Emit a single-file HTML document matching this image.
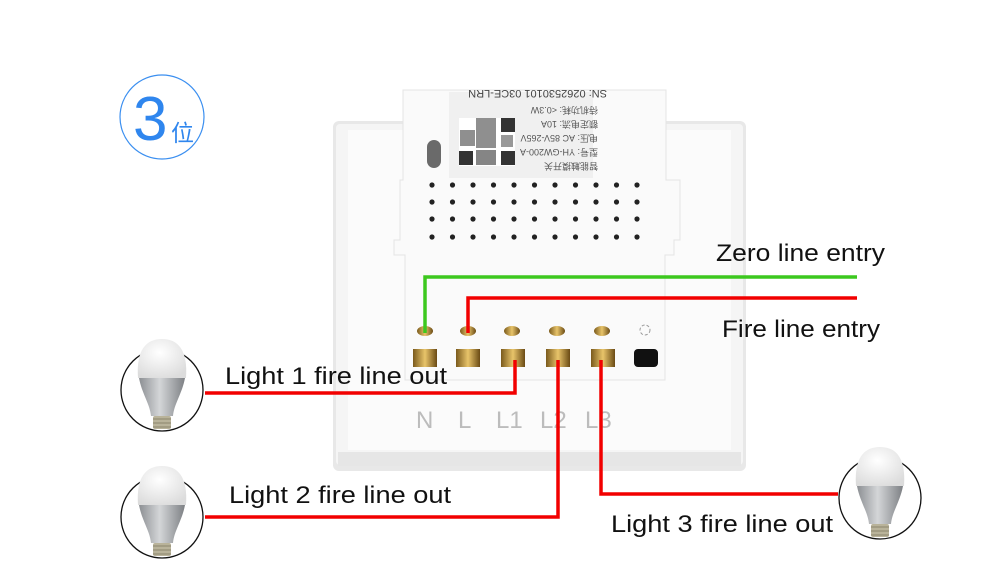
<!DOCTYPE html>
<html><head><meta charset="utf-8"><style>
body{margin:0;background:#fff;}
svg{display:block}
text{font-family:"Liberation Sans","Noto Sans CJK SC",sans-serif;}
</style></head><body>
<svg width="1000" height="584" viewBox="0 0 1000 584" xmlns="http://www.w3.org/2000/svg">
<defs>
<linearGradient id="sil" x1="0" x2="1"><stop offset="0" stop-color="#8c8f93"/><stop offset="0.45" stop-color="#d4d6d8"/><stop offset="1" stop-color="#7d8084"/></linearGradient>
<radialGradient id="dome" cx="0.45" cy="0.35" r="0.7"><stop offset="0" stop-color="#ffffff"/><stop offset="1" stop-color="#dcdcdc"/></radialGradient>
<linearGradient id="brass" x1="0" x2="1"><stop offset="0" stop-color="#7a5a1c"/><stop offset="0.5" stop-color="#e8c46a"/><stop offset="1" stop-color="#6a4a14"/></linearGradient>
<g id="bulb">
<circle cx="0" cy="0" r="41" fill="#fff" stroke="#111" stroke-width="1.3"/>
<path d="M-24,-12 C-26,-40 -16,-51 0,-51 C16,-51 26,-40 24,-12 Z" fill="url(#dome)"/>
<path d="M-23,-12 L23,-12 C20,4 12,14 11,26 L-11,26 C-12,14 -20,4 -23,-12 Z" fill="url(#sil)"/>
<rect x="-9" y="26" width="18" height="13" rx="2" fill="#b9b39a"/>
<path d="M-9,29 H9 M-9,33 H9 M-9,37 H9" stroke="#8a846c" stroke-width="1"/>
</g>
<g id="row" fill="#222"><circle cx="432" cy="0" r="2.6"/><circle cx="452.5" cy="0" r="2.6"/><circle cx="473" cy="0" r="2.6"/><circle cx="493.5" cy="0" r="2.6"/><circle cx="514" cy="0" r="2.6"/><circle cx="534.5" cy="0" r="2.6"/><circle cx="555" cy="0" r="2.6"/><circle cx="575.5" cy="0" r="2.6"/><circle cx="596" cy="0" r="2.6"/><circle cx="616.5" cy="0" r="2.6"/><circle cx="637" cy="0" r="2.6"/></g>
</defs>
<!-- 3位 badge -->
<circle cx="162" cy="117" r="42" fill="none" stroke="#3b8ff0" stroke-width="1.2"/>
<text x="133" y="140" font-size="62" fill="#2f86ee" font-weight="300">3</text>
<text x="171" y="141" font-size="23" fill="#2f86ee">位</text>
<!-- switch panel -->
<rect x="333" y="121" width="413" height="350" rx="6" fill="#e8e8e8"/>
<rect x="336" y="124" width="407" height="341" rx="4" fill="#f5f5f5"/>
<rect x="348" y="130" width="383" height="320" fill="#fbfbfb"/>
<rect x="338" y="452" width="403" height="14" fill="#e6e6e6"/>
<!-- module -->
<path d="M403,90 H666 V180 H680 V240 H674 V255 H665 V380 H405 V255 H394 V240 H400 V180 H403 Z" fill="#fafafa" stroke="#e4e4e4" stroke-width="1"/>
<rect x="449" y="92" width="144" height="86" fill="#f0f0f0"/>
<rect x="427" y="140" width="14" height="28" rx="7" fill="#6a6a6a"/>
<!-- qr -->
<rect x="459" y="118" width="56" height="48" fill="#fff"/>
<g fill="#333">
<rect x="459" y="151" width="14" height="14"/><rect x="501" y="151" width="14" height="14"/><rect x="501" y="118" width="14" height="14"/>
<rect x="476" y="118" width="20" height="30" opacity="0.55"/><rect x="460" y="130" width="15" height="16" opacity="0.55"/><rect x="476" y="150" width="20" height="15" opacity="0.6"/><rect x="501" y="135" width="12" height="12" opacity="0.5"/>
</g>
<g fill="#444" transform="rotate(180 530 130)">
<text x="453" y="170" font-size="11">SN: 0262530101 03CE-LRN</text>
</g>
<g font-size="9" fill="#555" transform="rotate(180 560 140)">
<text x="522" y="173">待机功耗: &lt;0.3W</text>
<text x="522" y="159">额定电流: 10A</text>
<text x="522" y="145">电压: AC 85V-265V</text>
<text x="522" y="131">型号: YH-GW200-A</text>
<text x="522" y="117">智能触摸开关</text>
</g>
<use href="#row" transform="translate(0,185)"/>
<use href="#row" transform="translate(0,202)"/>
<use href="#row" transform="translate(0,219)"/>
<use href="#row" transform="translate(0,237)"/>
<!-- terminals -->
<g>
<ellipse cx="425" cy="331" rx="8" ry="5" fill="url(#brass)"/>
<ellipse cx="468" cy="331" rx="8" ry="5" fill="url(#brass)"/>
<ellipse cx="512" cy="331" rx="8" ry="5" fill="url(#brass)"/>
<ellipse cx="557" cy="331" rx="8" ry="5" fill="url(#brass)"/>
<ellipse cx="602" cy="331" rx="8" ry="5" fill="url(#brass)"/>
<circle cx="645" cy="330" r="5" fill="none" stroke="#999" stroke-dasharray="3 2"/>
<rect x="413" y="349" width="24" height="18" fill="url(#brass)"/>
<rect x="456" y="349" width="24" height="18" fill="url(#brass)"/>
<rect x="501" y="349" width="24" height="18" fill="url(#brass)"/>
<rect x="546" y="349" width="24" height="18" fill="url(#brass)"/>
<rect x="591" y="349" width="24" height="18" fill="url(#brass)"/>
<rect x="634" y="349" width="24" height="18" rx="4" fill="#111"/>
</g>
<g font-size="24" fill="#bcbcbc">
<text x="416" y="428">N</text><text x="458" y="428">L</text><text x="496" y="428">L1</text><text x="540" y="428">L2</text><text x="585" y="428">L3</text>
</g>
<!-- wires -->
<g fill="none" stroke-width="3.5">
<path d="M425,333 V277 H857" stroke="#3cc81e"/>
<path d="M468,333 V298 H857" stroke="#f20000"/>
<path d="M515,360 V393 H205" stroke="#f20000"/>
<path d="M558,360 V517 H205" stroke="#f20000"/>
<path d="M601,360 V494 H838" stroke="#f20000"/>
</g>
<!-- labels -->
<g font-size="24" fill="#111">
<text x="716" y="261" textLength="169" lengthAdjust="spacingAndGlyphs">Zero line entry</text>
<text x="722" y="337" textLength="158" lengthAdjust="spacingAndGlyphs">Fire line entry</text>
<text x="225" y="384" textLength="222" lengthAdjust="spacingAndGlyphs">Light 1 fire line out</text>
<text x="229" y="503" textLength="222" lengthAdjust="spacingAndGlyphs">Light 2 fire line out</text>
<text x="611" y="532" textLength="222" lengthAdjust="spacingAndGlyphs">Light 3 fire line out</text>
</g>
<!-- bulbs -->
<use href="#bulb" transform="translate(162,390)"/>
<use href="#bulb" transform="translate(162,517)"/>
<use href="#bulb" transform="translate(880,498)"/>
</svg>
</body></html>
